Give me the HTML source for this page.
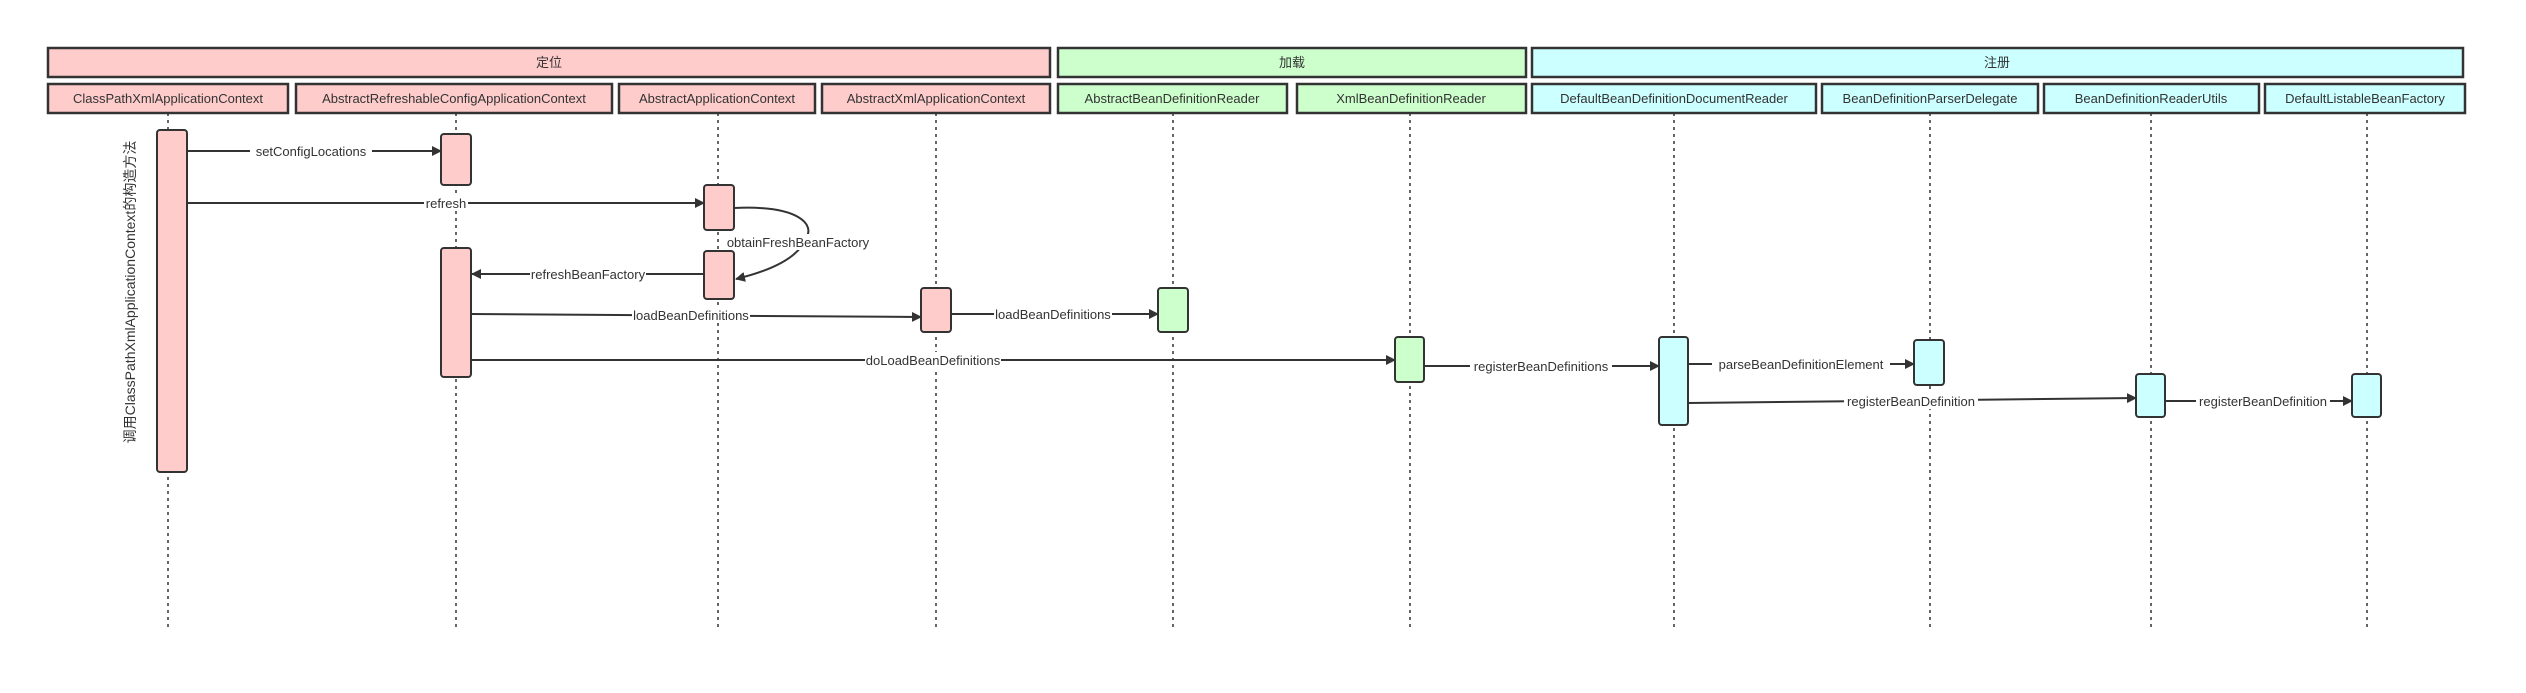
<!DOCTYPE html>
<html><head><meta charset="utf-8"><style>
html,body{margin:0;padding:0;background:#fff;}
svg{display:block;}
text{font-family:"Liberation Sans","Noto Sans CJK SC",sans-serif;font-size:13px;fill:#333;}
</style></head><body>
<svg width="2526" height="693" viewBox="0 0 2526 693" xmlns="http://www.w3.org/2000/svg">
<defs>
<marker id="ar" markerWidth="10" markerHeight="10" refX="9" refY="5" orient="auto" markerUnits="userSpaceOnUse">
<path d="M0,0 L10,5 L0,10 z" fill="#333"/></marker>
</defs>
<g stroke="#333" stroke-width="1.5" stroke-dasharray="3,4">
<line x1="168" y1="113" x2="168" y2="628"/>
<line x1="456" y1="113" x2="456" y2="628"/>
<line x1="718" y1="113" x2="718" y2="628"/>
<line x1="936" y1="113" x2="936" y2="628"/>
<line x1="1173" y1="113" x2="1173" y2="628"/>
<line x1="1410" y1="113" x2="1410" y2="628"/>
<line x1="1674" y1="113" x2="1674" y2="628"/>
<line x1="1930" y1="113" x2="1930" y2="628"/>
<line x1="2151" y1="113" x2="2151" y2="628"/>
<line x1="2367" y1="113" x2="2367" y2="628"/>
</g>
<g stroke="#333" stroke-width="2.5">
<rect x="48" y="48" width="1002" height="29" fill="#ffcccc"/>
<rect x="1058" y="48" width="468" height="29" fill="#ccffcc"/>
<rect x="1532" y="48" width="931" height="29" fill="#ccffff"/>
<rect x="48" y="84" width="240" height="29" fill="#ffcccc"/>
<rect x="296" y="84" width="316" height="29" fill="#ffcccc"/>
<rect x="619" y="84" width="196" height="29" fill="#ffcccc"/>
<rect x="822" y="84" width="228" height="29" fill="#ffcccc"/>
<rect x="1058" y="84" width="229" height="29" fill="#ccffcc"/>
<rect x="1297" y="84" width="229" height="29" fill="#ccffcc"/>
<rect x="1532" y="84" width="284" height="29" fill="#ccffff"/>
<rect x="1822" y="84" width="216" height="29" fill="#ccffff"/>
<rect x="2044" y="84" width="215" height="29" fill="#ccffff"/>
<rect x="2265" y="84" width="200" height="29" fill="#ccffff"/>
</g>
<g text-anchor="middle">
<text x="549" y="67">定位</text>
<text x="1292" y="67">加载</text>
<text x="1997" y="67">注册</text>
<text x="168" y="103">ClassPathXmlApplicationContext</text>
<text x="454" y="103">AbstractRefreshableConfigApplicationContext</text>
<text x="717" y="103">AbstractApplicationContext</text>
<text x="936" y="103">AbstractXmlApplicationContext</text>
<text x="1172" y="103">AbstractBeanDefinitionReader</text>
<text x="1411" y="103">XmlBeanDefinitionReader</text>
<text x="1674" y="103">DefaultBeanDefinitionDocumentReader</text>
<text x="1930" y="103">BeanDefinitionParserDelegate</text>
<text x="2151" y="103">BeanDefinitionReaderUtils</text>
<text x="2365" y="103">DefaultListableBeanFactory</text>
</g>
<g stroke="#333" stroke-width="2">
<rect x="157" y="130" width="30" height="342" rx="3" fill="#ffcccc"/>
<rect x="441" y="134" width="30" height="51" rx="3" fill="#ffcccc"/>
<rect x="704" y="185" width="30" height="45" rx="3" fill="#ffcccc"/>
<rect x="441" y="248" width="30" height="129" rx="3" fill="#ffcccc"/>
<rect x="704" y="251" width="30" height="48" rx="3" fill="#ffcccc"/>
<rect x="921" y="288" width="30" height="44" rx="3" fill="#ffcccc"/>
<rect x="1158" y="288" width="30" height="44" rx="3" fill="#ccffcc"/>
<rect x="1395" y="337" width="29" height="45" rx="3" fill="#ccffcc"/>
<rect x="1659" y="337" width="29" height="88" rx="3" fill="#ccffff"/>
<rect x="1914" y="340" width="30" height="45" rx="3" fill="#ccffff"/>
<rect x="2136" y="374" width="29" height="43" rx="3" fill="#ccffff"/>
<rect x="2352" y="374" width="29" height="43" rx="3" fill="#ccffff"/>
</g>
<g stroke="#333" stroke-width="2" fill="none" marker-end="url(#ar)">
<line x1="188" y1="151" x2="441" y2="151"/>
<line x1="188" y1="203" x2="704" y2="203"/>
<path d="M734,208 C800,205 815,225 806,238 C798,260 765,272 736,279"/>
<line x1="704" y1="274" x2="472" y2="274"/>
<line x1="471" y1="314" x2="921" y2="317"/>
<line x1="951" y1="314" x2="1158" y2="314"/>
<line x1="471" y1="360" x2="1395" y2="360"/>
<line x1="1424" y1="366" x2="1659" y2="366"/>
<line x1="1688" y1="364" x2="1914" y2="364"/>
<line x1="1688" y1="403" x2="2136" y2="398"/>
<line x1="2165" y1="401" x2="2352" y2="401"/>
</g>
<g text-anchor="middle">
<rect x="250" y="143" width="122" height="16" fill="#fff"/>
<text x="311" y="156">setConfigLocations</text>
<rect x="424" y="195" width="44" height="16" fill="#fff"/>
<text x="446" y="208">refresh</text>
<rect x="724" y="234" width="148" height="16" fill="#fff"/>
<text x="798" y="247">obtainFreshBeanFactory</text>
<rect x="530" y="266" width="116" height="16" fill="#fff"/>
<text x="588" y="279">refreshBeanFactory</text>
<rect x="632" y="307" width="118" height="16" fill="#fff"/>
<text x="691" y="320">loadBeanDefinitions</text>
<rect x="994" y="306" width="118" height="16" fill="#fff"/>
<text x="1053" y="319">loadBeanDefinitions</text>
<rect x="865" y="352" width="136" height="16" fill="#fff"/>
<text x="933" y="365">doLoadBeanDefinitions</text>
<rect x="1470" y="358" width="142" height="16" fill="#fff"/>
<text x="1541" y="371">registerBeanDefinitions</text>
<rect x="1712" y="356" width="178" height="16" fill="#fff"/>
<text x="1801" y="369">parseBeanDefinitionElement</text>
<rect x="1844" y="393" width="134" height="16" fill="#fff"/>
<text x="1911" y="406">registerBeanDefinition</text>
<rect x="2196" y="393" width="134" height="16" fill="#fff"/>
<text x="2263" y="406">registerBeanDefinition</text>
</g>
<text transform="translate(135,292) rotate(-90)" text-anchor="middle" style="font-size:14px">调用ClassPathXmlApplicationContext的构造方法</text>
</svg>
</body></html>
